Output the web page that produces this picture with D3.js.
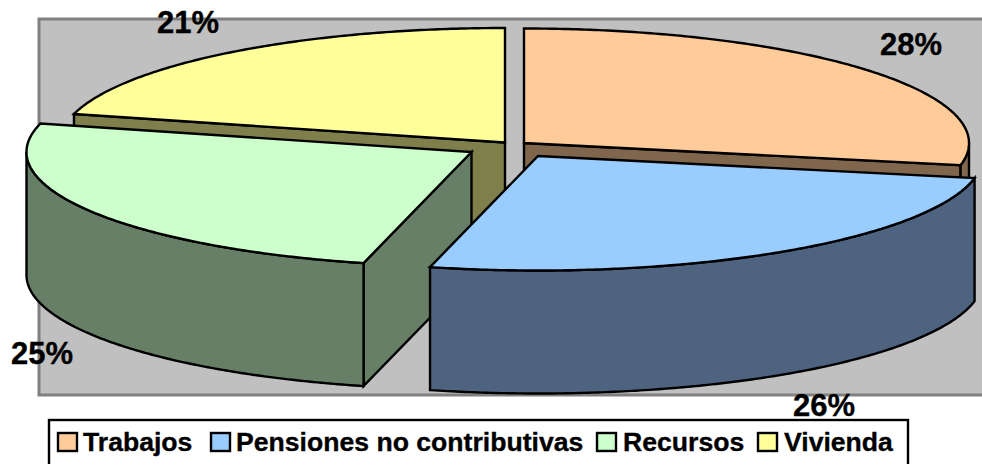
<!DOCTYPE html>
<html>
<head>
<meta charset="utf-8">
<script src="https://cdn.jsdelivr.net/npm/d3@7/dist/d3.min.js"></script>
<style>
html,body{margin:0;padding:0;background:#fff;overflow:hidden}
svg{display:block}
text{font-family:"Liberation Sans",Arial,sans-serif;font-weight:bold;fill:#000;stroke:#000;stroke-width:.35px}
</style>
</head>
<body>
<svg id="chart" width="982" height="464"></svg>
<script>
// Data
const categories = ["Trabajos", "Pensiones no contributivas", "Recursos", "Vivienda"];
const values = [28.1, 25.8, 25.1, 21.0];
const topColors = ["#FFCC99", "#99CCFF", "#CCFFCC", "#FFFF99"];
const sideColors = ["#7F664C", "#4D6380", "#667F66", "#7F7F4C"];

// Layout
const rx = 445, ry = 114.5, depth = 123;
const sliceCenters = [[524, 143], [538, 156], [471.5, 152], [505, 142.5]];
const drawOrder = [3, 0, 2, 1];
const labelAnchors = [[880, 55], [793, 416], [11, 364], [157, 33]];
const legendBox = {x: 49, y: 420, w: 859, h: 50};
const legendSwatchX = [58, 211, 597, 758];
const legendTextX = [83, 236, 623, 784];
const lineWidth = 2.4;

const svg = d3.select("#chart");

// Plot area
svg.append("rect")
  .attr("x", 39).attr("y", 19).attr("width", 950).attr("height", 376)
  .attr("fill", "#C0C0C0").attr("stroke", "#808080").attr("stroke-width", 3);

const arcs = d3.pie().sort(null).value(d => d)(values);

function pt(c, a, dy = 0) {
  return [c[0] + rx * Math.sin(a), c[1] - ry * Math.cos(a) + dy];
}
function rim(c, a0, a1, dy = 0) {
  const n = Math.max(2, Math.ceil(Math.abs(a1 - a0) / 0.01));
  return d3.range(n + 1).map(i => pt(c, a0 + (a1 - a0) * i / n, dy));
}
const line = d3.line();

function styled(sel, fill) {
  return sel.attr("fill", fill).attr("stroke", "#000").attr("stroke-width", lineWidth).attr("stroke-linejoin", "miter");
}

drawOrder.forEach(i => {
  const s = arcs[i], c = sliceCenters[i];
  const g = svg.append("g");
  const a0 = s.startAngle, a1 = s.endAngle;
  const front0 = Math.max(a0, Math.PI / 2), front1 = Math.min(a1, 3 * Math.PI / 2);

  // Radial walls that face the viewer
  [a0, a1].forEach((a, k) => {
    const n = k === 0 ? a - Math.PI / 2 : a + Math.PI / 2;
    if (-Math.cos(n) <= 1e-6) return;
    const p = pt(c, a);
    const poly = [c, p, [p[0], p[1] + depth], [c[0], c[1] + depth]];
    styled(g.append("path"), sideColors[i]).attr("d", line(poly) + "Z");
  });

  // Outer curved wall
  if (front1 > front0) {
    const upper = rim(c, front0, front1);
    const lower = rim(c, front1, front0, depth);
    styled(g.append("path"), sideColors[i]).attr("d", line(upper.concat(lower)) + "Z");
  }

  // Top face
  styled(g.append("path"), topColors[i])
    .attr("d", line([c].concat(rim(c, a0, a1))) + "Z");
});

// Percentage labels
const total = d3.sum(values);
const pct = d3.format(".0%");
svg.append("g").selectAll("text").data(values).join("text")
  .attr("x", (d, i) => labelAnchors[i][0])
  .attr("y", (d, i) => labelAnchors[i][1])
  .attr("font-size", 31)
  .text(d => pct(d / total));

// Legend
svg.append("rect")
  .attr("x", legendBox.x).attr("y", legendBox.y).attr("width", legendBox.w).attr("height", legendBox.h)
  .attr("fill", "#fff").attr("stroke", "#000").attr("stroke-width", lineWidth);
const lg = svg.append("g").selectAll("g").data(categories).join("g");
lg.append("rect")
  .attr("x", (d, i) => legendSwatchX[i]).attr("y", 433).attr("width", 19).attr("height", 18)
  .attr("fill", (d, i) => topColors[i]).attr("stroke", "#000").attr("stroke-width", lineWidth);
lg.append("text")
  .attr("x", (d, i) => legendTextX[i]).attr("y", 451)
  .attr("font-size", 26.6)
  .text(d => d);
</script>
</body>
</html>
